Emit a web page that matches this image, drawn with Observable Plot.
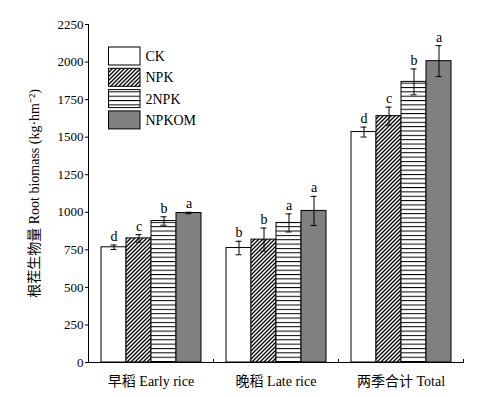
<!DOCTYPE html>
<html>
<head>
<meta charset="utf-8">
<script src="https://cdn.jsdelivr.net/npm/d3@7"></script>
<script src="https://cdn.jsdelivr.net/npm/@observablehq/plot@0.6"></script>
<style>
  html, body { margin: 0; padding: 0; background: white; }
</style>
</head>
<body>
<div id="chart"></div>
<script>
const groups = ["早稻 Early rice", "晚稻 Late rice", "两季合计 Total"];
const treatments = ["CK", "NPK", "2NPK", "NPKOM"];
const earlyValues = [767, 826, 942, 995];
const earlyErrors = [15, 25, 28, 5];
const earlyLetters = ["d", "c", "b", "a"];
const lateValues = [762, 818, 929, 1009];
const lateErrors = [45, 77, 60, 97];
const lateLetters = ["b", "b", "a", "a"];
const totalValues = [1534, 1640, 1868, 2006];
const totalErrors = [33, 60, 86, 103];
const totalLetters = ["d", "c", "b", "a"];
const yTicks = [0, 250, 500, 750, 1000, 1250, 1500, 1750, 2000, 2250];
const yLabel = "根茬生物量 Root biomass (kg·hm⁻²)";

const series = [
  [earlyValues, earlyErrors, earlyLetters],
  [lateValues, lateErrors, lateLetters],
  [totalValues, totalErrors, totalLetters]
];
const rows = [];
series.forEach(([vals, errs, lets], gi) => {
  treatments.forEach((t, ti) => {
    rows.push({group: groups[gi], treatment: t, value: vals[ti], err: errs[ti], letter: lets[ti]});
  });
});

const fills = ["white", "url(#diag)", "url(#horiz)", "#808080"];
const font = "'Liberation Serif', 'Times New Roman', 'Noto Sans CJK SC', serif";

function legendRender(index, scales, values, dimensions) {
  const g = d3.create("svg:g");
  const defs = g.append("defs");
  const diag = defs.append("pattern").attr("id", "diag").attr("patternUnits", "userSpaceOnUse")
    .attr("width", 4).attr("height", 4);
  diag.append("rect").attr("width", 4).attr("height", 4).attr("fill", "white");
  diag.append("path").attr("d", "M-1,1 l2,-2 M0,4 l4,-4 M3,5 l2,-2")
    .attr("stroke", "black").attr("stroke-width", 1.3);
  const horiz = defs.append("pattern").attr("id", "horiz").attr("patternUnits", "userSpaceOnUse")
    .attr("width", 4).attr("height", 4.35);
  horiz.append("rect").attr("width", 4).attr("height", 4.35).attr("fill", "white");
  horiz.append("line").attr("x1", 0).attr("x2", 4).attr("y1", 0.5).attr("y2", 0.5)
    .attr("stroke", "black").attr("stroke-width", 1);

  const bw = scales.x.bandwidth ? scales.x.bandwidth() : 25;
  const xAxis = scales.x(treatments[0]) - bw / 2;
  // y axis line
  g.append("line").attr("x1", xAxis).attr("x2", xAxis)
    .attr("y1", scales.y(0)).attr("y2", scales.y(yTicks[yTicks.length - 1]))
    .attr("stroke", "black");

  const x0 = scales.x(treatments[0]) + 7.5;
  const y0 = scales.y(yTicks[yTicks.length - 1]) + 23;
  treatments.forEach((t, i) => {
    const y = y0 + i * 21.3;
    g.append("rect").attr("x", x0).attr("y", y).attr("width", 31.5).attr("height", 18)
      .attr("fill", fills[i]).attr("stroke", "black");
    g.append("text").attr("x", x0 + 37).attr("y", y + 9).attr("dy", "0.35em")
      .attr("text-anchor", "start")
      .attr("font-size", 14).attr("fill", "black").text(t);
  });
  return g.node();
}

const chart = Plot.plot({
  width: 487,
  height: 397,
  marginLeft: 87,
  marginRight: 24,
  marginTop: 24,
  marginBottom: 35,
  style: {fontFamily: font, fontSize: "13px", color: "black", background: "white"},
  fx: {domain: groups, padding: 0, label: null},
  x: {domain: treatments, paddingInner: 0, paddingOuter: 0.5, axis: null},
  y: {domain: [0, 2250]},
  color: {type: "ordinal", domain: treatments, range: fills},
  marks: [
    Plot.barY(rows, {fx: "group", x: "treatment", y: "value", fill: "treatment", stroke: "black", strokeWidth: 1}),
    Plot.ruleX(rows, {fx: "group", x: "treatment", y1: d => d.value - d.err, y2: d => d.value + d.err, stroke: "black"}),
    Plot.tickY(rows, {fx: "group", x: "treatment", y: d => d.value - d.err, stroke: "black", insetLeft: 9.5, insetRight: 9.5}),
    Plot.tickY(rows, {fx: "group", x: "treatment", y: d => d.value + d.err, stroke: "black", insetLeft: 9.5, insetRight: 9.5}),
    Plot.text(rows, {fx: "group", x: "treatment", y: d => d.value + d.err, text: "letter", lineAnchor: "bottom", dy: -4, fontSize: 14, fill: "#000"}),
    Plot.ruleY([0], {stroke: "black"}),
    Plot.frame({anchor: "right", insetTop: 335, stroke: "black"}),
    Plot.rect(treatments, {fx: () => groups[0], render: legendRender}),
    Plot.text([yLabel], {fx: () => groups[0], frameAnchor: "left", textAnchor: "middle", rotate: -90, dx: -54, fontSize: 14, fill: "#000"}),
    Plot.axisY({ticks: yTicks, tickFormat: "d", tickSize: 3, tickPadding: 2, fontSize: 13, label: null}),
    Plot.axisFx({anchor: "bottom", tickSize: 0, tickPadding: 14, fontSize: 14, label: null})
  ]
});
document.getElementById("chart").appendChild(chart);
</script>
</body>
</html>
